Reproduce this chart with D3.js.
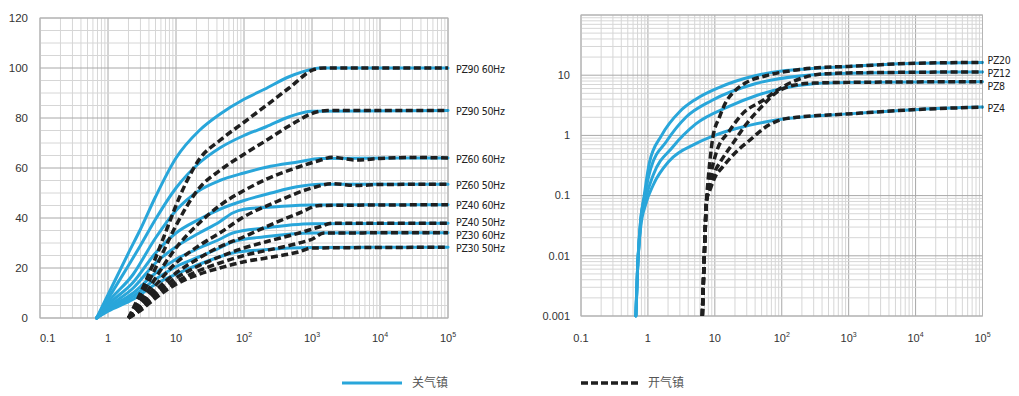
<!DOCTYPE html>
<html>
<head>
<meta charset="utf-8">
<script src="https://cdn.jsdelivr.net/npm/d3@7"></script>
<style>
  body { margin: 0; background: #fff; }
  text { font-family: "Liberation Sans", Arial, sans-serif; fill: #333; }
  .lbl { font-family: "Liberation Sans Narrow", "DejaVu Sans Condensed", sans-serif; font-size: 10.5px; letter-spacing: -0.3px; fill: #222; }
  .legend text { font-family: "Noto Sans CJK SC", sans-serif; font-size: 12px; fill: #555; }
</style>
</head>
<body>
<svg id="chart" width="1019" height="396"></svg>
<script>
// ---- data ----
var xTicks = [0.1, 1, 10, 100, 1000, 10000, 100000];
var leftYTicks = [0, 20, 40, 60, 80, 100, 120];
var rightYTicks = [0.001, 0.01, 0.1, 1, 10];

var leftNames = ["PZ90 60Hz", "PZ90 50Hz", "PZ60 60Hz", "PZ60 50Hz", "PZ40 60Hz", "PZ40 50Hz", "PZ30 60Hz", "PZ30 50Hz"];

// 关气镇 (solid blue)
var leftClosed = [
  [[0.68,0],[1,9.3],[2,26],[3,35.5],[5,48.5],[10,64],[22,75],[44,81.5],[100,87.5],[200,91.5],[460,96.5],[1000,99.5],[1300,100],[100000,100]],
  [[0.68,0],[1,7.6],[2,21],[3,29],[5,39.5],[10,52],[22,62],[44,68],[100,73],[212,76.5],[464,80.5],[1000,82.7],[100000,83]],
  [[0.68,0],[1,6.3],[2.35,17.5],[5,32],[10,43],[22,51],[44,55],[100,58],[212,60.3],[650,62.5],[1300,63.8],[100000,64]],
  [[0.68,0],[1,5.2],[2.35,14.3],[5,26],[10,34],[22,39.5],[44,43.5],[100,47],[250,50],[600,52.5],[1300,53.5],[100000,53.5]],
  [[0.68,0],[1,4.3],[2.35,12],[5,22],[10,28.5],[22,34],[44,38.5],[68,42],[100,43.5],[300,44.5],[1000,45.2],[100000,45.3]],
  [[0.68,0],[1,3.6],[2.35,10],[5,18],[10,23.5],[22,28],[44,31.5],[68,34],[200,36],[1000,37.7],[100000,37.9]],
  [[0.68,0],[1,3.1],[2.35,8.7],[5,15.5],[10,20.5],[22,24.5],[44,28],[68,30.5],[200,32.5],[1000,34],[100000,34.1]],
  [[0.68,0],[1,2.7],[2.35,7.5],[5,13.5],[10,17.5],[22,21.5],[44,24.5],[68,26],[200,27.3],[1000,28.2],[100000,28.3]]
];

// 开气镇 (dashed black)
var leftOpen = [
  [[2,0],[3,10],[5,24],[7.2,35],[10,45],[14,54],[22,63.5],[44,71],[100,78.3],[212,85],[460,92],[1100,99.5],[1500,100],[100000,100]],
  [[2,0],[3,8],[5,20],[10,37],[22,52],[44,59],[100,65.5],[212,71],[460,76.8],[1200,82.5],[1700,83],[100000,83]],
  [[2,0],[3,6],[5,16],[10,28],[22,38],[44,45],[100,51],[212,55.5],[650,60.5],[1280,63],[2000,64.3],[4400,63.2],[10000,63.8],[30000,64.2],[100000,64]],
  [[2,0],[3,5],[5,13],[10,22],[22,29],[44,34],[100,40.5],[300,46.5],[1000,52],[2000,53.7],[4400,53],[10000,53.4],[100000,53.5]],
  [[2,0],[3,4.5],[5,11],[10,18],[22,24],[44,28.5],[100,32.5],[212,36.5],[650,42],[1300,45],[100000,45.3]],
  [[2,0],[3,4],[5,10],[10,16],[22,21],[44,24.5],[100,28],[212,30.5],[650,34],[1300,36.5],[2000,37.9],[100000,37.9]],
  [[2,0],[3,3.5],[5,9],[10,14.5],[22,19],[44,22],[100,25],[212,27],[650,30],[1000,31.5],[1500,34],[100000,34.1]],
  [[2,0],[3,3],[5,8],[10,13.5],[22,17.5],[44,20],[100,22.5],[212,24],[650,26.5],[1000,28],[100000,28.3]]
];

var rightNames = ["PZ20", "PZ12", "PZ8", "PZ4"];

var rightClosed = [
  [[0.66,0.001],[0.7,0.006],[0.78,0.04],[0.88,0.1],[1.05,0.35],[1.6,1],[3,2.5],[5.2,4],[11.7,6.3],[40,9.8],[100,11.7],[230,12.7],[1000,14],[10000,15.8],[100000,16.3]],
  [[0.66,0.001],[0.7,0.006],[0.78,0.04],[0.88,0.09],[1.1,0.28],[1.9,0.8],[3.7,2],[9,3.8],[40,7.2],[200,9.8],[1000,10.8],[10000,11.2],[100000,11.3]],
  [[0.66,0.001],[0.7,0.006],[0.78,0.035],[0.9,0.08],[1.2,0.22],[2.35,0.64],[5.2,1.55],[16,3],[42,4.6],[100,6],[300,7.2],[1000,7.6],[100000,7.8]],
  [[0.66,0.001],[0.7,0.006],[0.78,0.03],[0.92,0.07],[1.2,0.15],[2.1,0.38],[5.2,0.73],[10,1],[21,1.3],[83,1.8],[1150,2.3],[11000,2.7],[100000,2.95]]
];

var rightOpen = [
  [[6.5,0.001],[7,0.012],[7.5,0.08],[8,0.2],[8.6,0.45],[9.3,0.9],[11.7,2],[14.7,3.6],[20,5.5],[29,7.5],[58,9.8],[146,12],[300,13.2],[1000,14],[10000,15.8],[100000,16.3]],
  [[6.5,0.001],[7,0.012],[7.5,0.08],[8.2,0.15],[9.2,0.3],[10.4,0.5],[16.6,1.2],[26,2.3],[52,3.8],[103,6.4],[230,9.4],[460,10.6],[1000,10.9],[10000,11.2],[100000,11.3]],
  [[6.5,0.001],[7,0.012],[7.5,0.08],[8.4,0.14],[10,0.25],[12.4,0.38],[18.5,0.73],[29,1.5],[50,3],[80,5],[150,6.8],[300,7.4],[1000,7.6],[100000,7.8]],
  [[6.5,0.001],[7,0.012],[7.5,0.08],[8.6,0.13],[10,0.2],[13.1,0.3],[18,0.45],[23.4,0.6],[31,0.78],[65,1.5],[116,1.9],[1150,2.3],[11000,2.7],[100000,2.95]]
];

var legendNames = ["关气镇", "开气镇"];

// ---- drawing ----
var blue = "#29a6da";
var dark = "#1f1f1f";
var svg = d3.select("#chart");

function minorValues(lo, hi) {
  var out = [];
  for (var d = lo; d < hi; d *= 10) {
    for (var k = 1; k < 10; k++) out.push(d * k);
  }
  out.push(hi);
  return out;
}

// push end labels apart so they do not overlap
function dodge(ys, gap) {
  var p = ys.slice();
  for (var it = 0; it < 100; it++) {
    for (var i = 1; i < p.length; i++) {
      var diff = p[i] - p[i - 1];
      if (diff < gap) {
        var m = (gap - diff) / 2;
        p[i - 1] -= m;
        p[i] += m;
      }
    }
  }
  return p;
}

function xLabels(g, x, y0, firstStart) {
  var t = g.selectAll(".xt").data(xTicks).enter().append("text")
    .attr("class", "xt")
    .attr("x", function(d) { return x(d); })
    .attr("y", y0)
    .attr("text-anchor", function(d, i) { return (i === 0 && firstStart) ? "start" : "middle"; })
    .style("font-size", "11px");
  t.each(function(d) {
    var s = d3.select(this);
    var e = Math.round(Math.log10(d));
    if (e <= 1) {
      s.text(d < 1 ? "0.1" : String(d));
    } else {
      s.append("tspan").text("10");
      s.append("tspan").attr("dy", -5).style("font-size", "7px").text(e);
    }
  });
}

function drawPanel(opt) {
  var g = svg.append("g");
  var x = opt.x, y = opt.y;
  var r = x.range(), ry = y.range();

  // vertical grid
  g.selectAll(".vg").data(minorValues(0.1, 100000)).enter().append("line")
    .attr("x1", function(d) { return x(d); }).attr("x2", function(d) { return x(d); })
    .attr("y1", ry[0]).attr("y2", ry[1])
    .attr("stroke", function(d) { return Math.abs(Math.log10(d) % 1) < 1e-9 ? "#a8a8a8" : "#d6d6d6"; })
    .attr("stroke-width", 1);

  // horizontal grid
  g.selectAll(".hg").data(opt.hGrid).enter().append("line")
    .attr("x1", r[0]).attr("x2", r[1])
    .attr("y1", function(d) { return y(d); }).attr("y2", function(d) { return y(d); })
    .attr("stroke", function(d) { return opt.isMajor(d) ? "#a8a8a8" : "#d6d6d6"; })
    .attr("stroke-width", 1);

  g.append("rect")
    .attr("x", r[0]).attr("y", ry[1])
    .attr("width", r[1] - r[0]).attr("height", ry[0] - ry[1])
    .attr("fill", "none").attr("stroke", "#b5b5b5");

  // y tick labels
  g.selectAll(".yt").data(opt.yTicks).enter().append("text")
    .attr("x", r[0] - opt.yPad)
    .attr("y", function(d) { return y(d); })
    .attr("dy", "0.35em")
    .attr("text-anchor", "end")
    .style("font-size", opt.yFont)
    .text(function(d) { return String(d); });

  xLabels(g, x, 342, opt.firstStart);

  var line = d3.line()
    .x(function(d) { return x(d[0]); })
    .y(function(d) { return y(d[1]); })
    .curve(d3.curveMonotoneX);

  g.selectAll(".closed").data(opt.closed).enter().append("path")
    .attr("d", line)
    .attr("fill", "none").attr("stroke", blue)
    .attr("stroke-width", 3).attr("stroke-linecap", "round");

  g.selectAll(".open").data(opt.open).enter().append("path")
    .attr("d", line)
    .attr("fill", "none").attr("stroke", dark)
    .attr("stroke-width", 3.5).attr("stroke-dasharray", "7,3.5");

  var ends = opt.closed.map(function(s) { return y(s[s.length - 1][1]); });
  var ly = dodge(ends, 13);
  g.selectAll(".lbl").data(opt.names).enter().append("text")
    .attr("class", "lbl")
    .attr("x", r[1] + opt.lblPad)
    .attr("y", function(d, i) { return ly[i] + 1; })
    .attr("dy", "0.35em")
    .text(function(d) { return d; });
}

drawPanel({
  x: d3.scaleLog().domain([0.1, 100000]).range([40, 448]),
  y: d3.scaleLinear().domain([0, 120]).range([318, 18]),
  hGrid: d3.range(0, 121, 5),
  isMajor: function(d) { return d % 20 === 0; },
  yTicks: leftYTicks, yPad: 12, yFont: "11.5px", firstStart: true,
  closed: leftClosed, open: leftOpen, names: leftNames, lblPad: 8
});

drawPanel({
  x: d3.scaleLog().domain([0.1, 100000]).range([581, 982.5]),
  y: d3.scaleLog().domain([0.001, 100]).range([316, 15]),
  hGrid: minorValues(0.001, 100),
  isMajor: function(d) { return Math.abs(Math.log10(d) - Math.round(Math.log10(d))) < 1e-9; },
  yTicks: rightYTicks, yPad: 11, yFont: "11px", firstStart: false,
  closed: rightClosed, open: rightOpen, names: rightNames, lblPad: 5
});

// legend
var lg = svg.append("g").attr("class", "legend");
lg.append("line").attr("x1", 342).attr("x2", 402).attr("y1", 383).attr("y2", 383)
  .attr("stroke", blue).attr("stroke-width", 3);
lg.append("text").attr("x", 412).attr("y", 383).attr("dy", "0.35em").text(legendNames[0]);
lg.append("line").attr("x1", 581).attr("x2", 641).attr("y1", 383).attr("y2", 383)
  .attr("stroke", dark).attr("stroke-width", 3.5).attr("stroke-dasharray", "7,3");
lg.append("text").attr("x", 648).attr("y", 383).attr("dy", "0.35em").text(legendNames[1]);
</script>
</body>
</html>
